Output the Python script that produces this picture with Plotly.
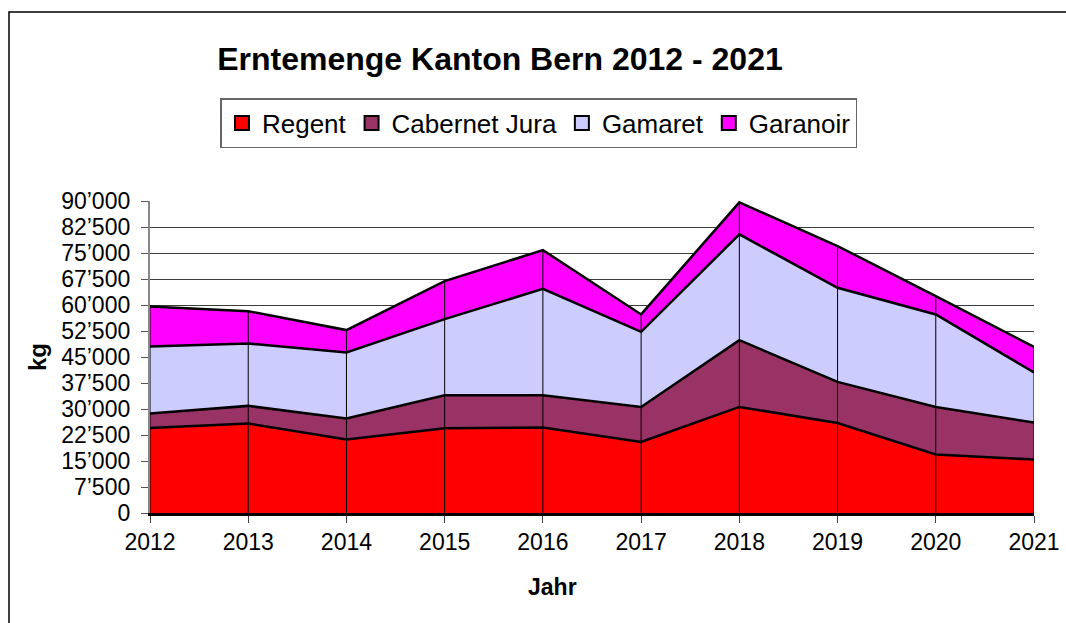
import plotly.graph_objects as go

years = [2012, 2013, 2014, 2015, 2016, 2017, 2018, 2019, 2020, 2021]
regent = [24500, 25800, 21200, 24450, 24650, 20500, 30600, 25980, 16860, 15420]
cabernet_jura = [4200, 5100, 6060, 9530, 9330, 10100, 19260, 11840, 13740, 10680]
gamaret = [19300, 18000, 19060, 21940, 30690, 21650, 30510, 27140, 26680, 14430]
garanoir = [11600, 9300, 6440, 10970, 11170, 5030, 9240, 12040, 5280, 7390]

series = [
    ("Regent", regent, "#FF0000"),
    ("Cabernet Jura", cabernet_jura, "#993366"),
    ("Gamaret", gamaret, "#CCCCFF"),
    ("Garanoir", garanoir, "#FF00FF"),
]

y_ticks = [i * 7500 for i in range(13)]
y_labels = [("0" if v == 0 else f"{v // 1000}\u2019{v % 1000:03d}") + " " for v in y_ticks]

font = "Liberation Sans, Arial, sans-serif"

fig = go.Figure()

for name, vals, col in series:
    fig.add_scatter(x=years, y=vals, name=name, stackgroup="one", mode="lines",
                    line=dict(color="black", width=2.5), fillcolor=col,
                    showlegend=False)

# thin vertical lines at each year inside the stacked area
totals = [a + b + c + d for a, b, c, d in zip(regent, cabernet_jura, gamaret, garanoir)]
vx, vy = [], []
for yr, t in zip(years, totals):
    vx += [yr, yr, None]
    vy += [0, t, None]
fig.add_scatter(x=vx, y=vy, mode="lines", line=dict(color="black", width=1),
                showlegend=False, hoverinfo="skip")

# legend entries as square markers
for name, vals, col in series:
    fig.add_scatter(x=[None], y=[None], name=name, mode="markers",
                    marker=dict(symbol="square", size=14, color=col,
                                line=dict(color="black", width=2)))

# top gridline is lighter in the original
fig.add_hline(y=90000, line=dict(color="#c8c8c8", width=1.5))

# x axis title sits a bit left of the plot centre in the original
fig.add_annotation(text="<b>Jahr</b>", xref="paper", yref="paper", x=0.4548, y=-0.237,
                   xanchor="center", yanchor="middle", showarrow=False,
                   font=dict(size=23, family=font, color="black"))

fig.update_layout(
    width=1066, height=623,
    margin=dict(l=150, r=32, t=201, b=110),
    paper_bgcolor="white", plot_bgcolor="white",
    font=dict(family=font, color="black", size=23),
    title=dict(text="<b>Erntemenge Kanton Bern 2012 - 2021</b>",
               x=0.469, xanchor="center", y=0.905, yanchor="middle",
               font=dict(size=32, family=font, color="black")),
    legend=dict(orientation="h", x=0.44, xanchor="center", y=1.33, yanchor="top",
                bgcolor="white", bordercolor="#666666", borderwidth=1.5,
                font=dict(size=26, family=font), itemwidth=30,
                traceorder="normal", tracegroupgap=0),
    shapes=[dict(type="rect", xref="paper", yref="paper",
                 x0=-0.1595, x1=1.2, y0=-0.6, y1=1.6058,
                 line=dict(color="black", width=1.5), layer="below")],
)

fig.update_xaxes(
    range=[2012, 2021], tickvals=years, ticks="outside", ticklen=7,
    tickcolor="#444444", showline=True, linecolor="black", linewidth=2.5,
    showgrid=False, zeroline=False, tickfont=dict(size=23), automargin=False,
)
fig.update_yaxes(
    range=[0, 90000], tickvals=y_ticks, ticktext=y_labels, ticks="outside",
    ticklen=7, tickcolor="#555555", showline=True, linecolor="#888888", linewidth=1.5,
    showgrid=True, gridcolor="#3c3c3c", gridwidth=1, zeroline=False,
    tickfont=dict(size=23), automargin=False,
    title=dict(text="<b>kg</b>", font=dict(size=24), standoff=8),
)

fig.write_html("out.html", config={"displayModeBar": False},
               post_script="document.body.style.margin='0';document.body.style.overflow='hidden';")
